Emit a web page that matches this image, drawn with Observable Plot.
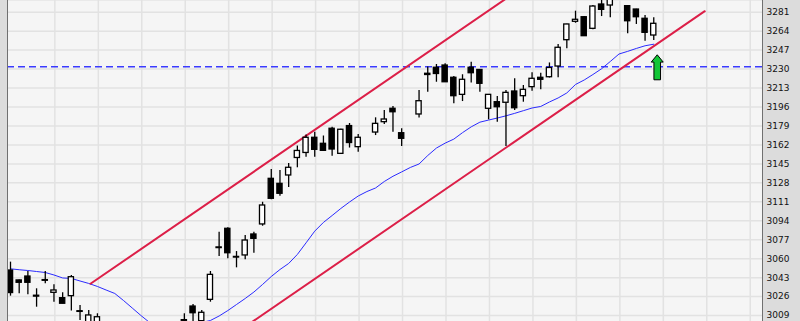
<!DOCTYPE html>
<html><head><meta charset="utf-8">
<script src="https://cdn.jsdelivr.net/npm/d3@7"></script>
<script src="https://cdn.jsdelivr.net/npm/@observablehq/plot@0.6"></script>
<style>html,body{margin:0;padding:0;background:#dcdcdc;overflow:hidden}</style>
</head><body><div id="chart"></div>
<script>
// Candle data (session index; gaps are sessions not drawn)
const candleIndex = [0,1,2,3,4,5,6,7,8,9,10,20,21,22,23,24,25,26,27,28,29,30,31,32,33,34,35,36,37,38,39,40,42,43,44,45,47,48,49,50,51,52,53,54,55,56,57,58,59,60,61,62,63,64,65,66,67,68,69,71,72,73,74];
const openValues  = [3049.4,3040.5,3044.0,3026.8,3040.8,3029.4,3024.6,3026.4,3012.9,3002.0,3002.5,3004.9,3017.1,3004.0,3023.1,3070.1,3086.8,3061.6,3062.9,3081.7,3090.7,3131.6,3127.1,3134.6,3150.3,3154.8,3168.4,3163.0,3176.5,3154.0,3178.9,3160.0,3173.1,3182.4,3194.4,3172.5,3189.3,3225.8,3231.2,3233.2,3222.2,3206.9,3231.2,3229.2,3194.4,3200.3,3199.8,3209.9,3205.7,3213.8,3222.2,3222.7,3232.3,3255.9,3272.4,3276.5,3266.1,3287.9,3287.0,3286.4,3283.4,3275.1,3260.1];
const highValues  = [3056.9,3040.8,3048.5,3033.0,3048.5,3036.6,3029.4,3044.9,3018.0,3013.5,3010.6,3010.6,3018.9,3013.5,3048.5,3083.7,3087.7,3066.4,3080.8,3083.7,3110.6,3140.0,3139.1,3145.3,3161.0,3170.9,3173.4,3170.0,3177.9,3176.0,3181.2,3171.3,3186.3,3192.9,3196.5,3176.5,3210.8,3231.9,3234.1,3234.7,3223.3,3224.9,3236.2,3229.5,3207.2,3205.4,3210.8,3221.3,3215.3,3226.7,3226.3,3235.5,3252.0,3270.3,3281.9,3277.1,3287.0,3292.5,3295.0,3287.0,3283.6,3278.0,3276.0];
const lowValues   = [3026.4,3028.5,3027.6,3016.5,3037.5,3021.0,3019.6,3013.1,3004.6,3000.0,3001.0,3000.0,3003.0,3001.0,3021.0,3062.0,3059.9,3051.8,3059.0,3064.9,3089.1,3112.8,3116.0,3123.8,3141.5,3151.0,3151.0,3156.1,3151.9,3153.6,3159.2,3155.5,3170.4,3180.3,3173.4,3160.6,3186.1,3209.3,3218.2,3218.0,3198.9,3200.9,3217.5,3209.3,3184.5,3182.4,3160.6,3192.9,3200.3,3210.2,3211.4,3222.0,3222.2,3248.2,3271.1,3259.3,3265.2,3277.1,3276.0,3261.6,3270.0,3255.0,3255.6];
const closeValues = [3029.2,3038.4,3038.4,3026.0,3040.2,3031.5,3019.6,3043.4,3012.3,3009.1,3007.5,3004.3,3011.1,3011.5,3045.5,3069.5,3064.9,3061.0,3076.3,3077.8,3107.7,3113.7,3118.2,3141.5,3156.6,3168.4,3157.6,3156.7,3157.9,3175.6,3163.7,3168.4,3180.9,3184.8,3191.3,3167.5,3201.2,3224.7,3225.6,3218.2,3205.7,3220.4,3226.3,3216.8,3206.9,3195.8,3208.7,3194.9,3211.4,3221.3,3220.4,3231.0,3249.1,3270.0,3274.2,3259.5,3286.1,3283.1,3293.0,3272.9,3276.5,3262.5,3270.6];

// Moving average (blue line), one value per session 0..74
const maValues = [3050.9,3050.1,3049.4,3048.5,3047.6,3045.4,3042.7,3042.3,3040.0,3037.8,3035.1,3031.9,3028.8,3022.5,3015.8,3009.1,3002.8,2997.4,2993.8,2992.9,2994.7,2999.2,3002.8,3004.6,3008.6,3013.5,3018.9,3024.3,3030.1,3036.9,3044.0,3050.3,3055.7,3063.8,3074.2,3084.7,3092.5,3098.7,3105.0,3110.8,3116.2,3120.2,3123.4,3129.2,3133.9,3137.8,3141.8,3144.9,3152.5,3159.2,3163.6,3167.2,3173.0,3178.2,3182.4,3184.3,3186.1,3188.1,3190.3,3192.7,3195.1,3196.5,3200.5,3204.1,3208.6,3216.2,3220.2,3225.1,3230.3,3236.8,3243.5,3245.9,3248.5,3250.9,3252.3];

// Channel lines (two end points each: session index, value)
const upperChannelIndex = [9.2, 57.2];
const upperChannelValue = [3037.5, 3294.2];
const lowerChannelIndex = [26.0, 79.87];
const lowerChannelValue = [2993.7, 3281.9];

// Horizontal level and signal arrow
const levelValue = 3232;
const arrowIndex = [74.4];
const arrowValue = [3231.6];

// Y tick labels
const yTicks = [3009,3026,3043,3060,3077,3094,3111,3128,3145,3162,3179,3196,3213,3230,3247,3264,3281];

const rows = candleIndex.map((i, k) => ({i, open: openValues[k], high: highValues[k], low: lowValues[k], close: closeValues[k]}));
const upRows = rows.filter(d => d.close >= d.open);
const downRows = rows.filter(d => d.close < d.open);
const maRows = maValues.map((v, i) => ({i, v}));
const upperRows = upperChannelIndex.map((i, k) => ({i, v: upperChannelValue[k]}));
const lowerRows = lowerChannelIndex.map((i, k) => ({i, v: lowerChannelValue[k]}));
const arrowRows = arrowIndex.map((i, k) => ({i, v: arrowValue[k]}));
const xGrid = d3.range(1, 18).map(k => 5 * k + 0.1);

const arrowSymbol = {
  draw(ctx) {
    ctx.moveTo(0, -12.5);
    ctx.lineTo(6, -5.2);
    ctx.lineTo(3.3, -5.2);
    ctx.lineTo(3.3, 12.5);
    ctx.lineTo(-3.3, 12.5);
    ctx.lineTo(-3.3, -5.2);
    ctx.lineTo(-6, -5.2);
    ctx.closePath();
  }
};

const xDomain = [-0.345, 86.51];
const yDomain = [3003.68, 3291.49];
const bw = 0.3;

const chart = Plot.plot({
  width: 800, height: 321,
  marginLeft: 7, marginRight: 38, marginTop: 0, marginBottom: 0,
  style: {background: "#dcdcdc", fontFamily: "DejaVu Sans", fontSize: "9px", color: "#111"},
  x: {domain: xDomain, axis: null},
  y: {domain: yDomain, axis: null, label: null},
  marks: [
    Plot.frame({fill: "#f5f5f5", stroke: null}),
    Plot.ruleY(yTicks, {stroke: "#e2e2e2", strokeWidth: 1.5}),
    Plot.ruleX(xGrid, {stroke: "#e2e2e2", strokeWidth: 1.5}),
    Plot.ruleY([levelValue], {stroke: "#3a3aff", strokeWidth: 1.5, strokeDasharray: "7,4"}),
    Plot.line(maRows, {x: "i", y: "v", stroke: "#2b2bff", strokeWidth: 1, clip: true}),
    Plot.line(upperRows, {x: "i", y: "v", stroke: "#dc1f48", strokeWidth: 2, clip: true}),
    Plot.line(lowerRows, {x: "i", y: "v", stroke: "#dc1f48", strokeWidth: 2, clip: true}),
    Plot.ruleX(rows, {x: "i", y1: "low", y2: "high", stroke: "#000", strokeWidth: 1.3, clip: true}),
    Plot.rect(upRows, {x1: d => d.i - bw, x2: d => d.i + bw, y1: "open", y2: "close", fill: "#fff", stroke: "#000", strokeWidth: 1.3, clip: true}),
    Plot.rect(downRows, {x1: d => d.i - bw, x2: d => d.i + bw, y1: "open", y2: "close", fill: "#000", stroke: "#000", strokeWidth: 1.3, clip: true}),
    Plot.dot(arrowRows, {x: "i", y: "v", symbol: arrowSymbol, r: 5, fill: "#12c636", stroke: "#000", strokeWidth: 1}),
    Plot.axisY({anchor: "right", ticks: yTicks, tickSize: 0, tickPadding: 4, tickFormat: d => String(d), fontSize: 9, label: null}),
    Plot.ruleX([xDomain[0], xDomain[1]], {stroke: "#707070", strokeWidth: 1})
  ]
});
document.getElementById("chart").appendChild(chart);
</script>
</body></html>
